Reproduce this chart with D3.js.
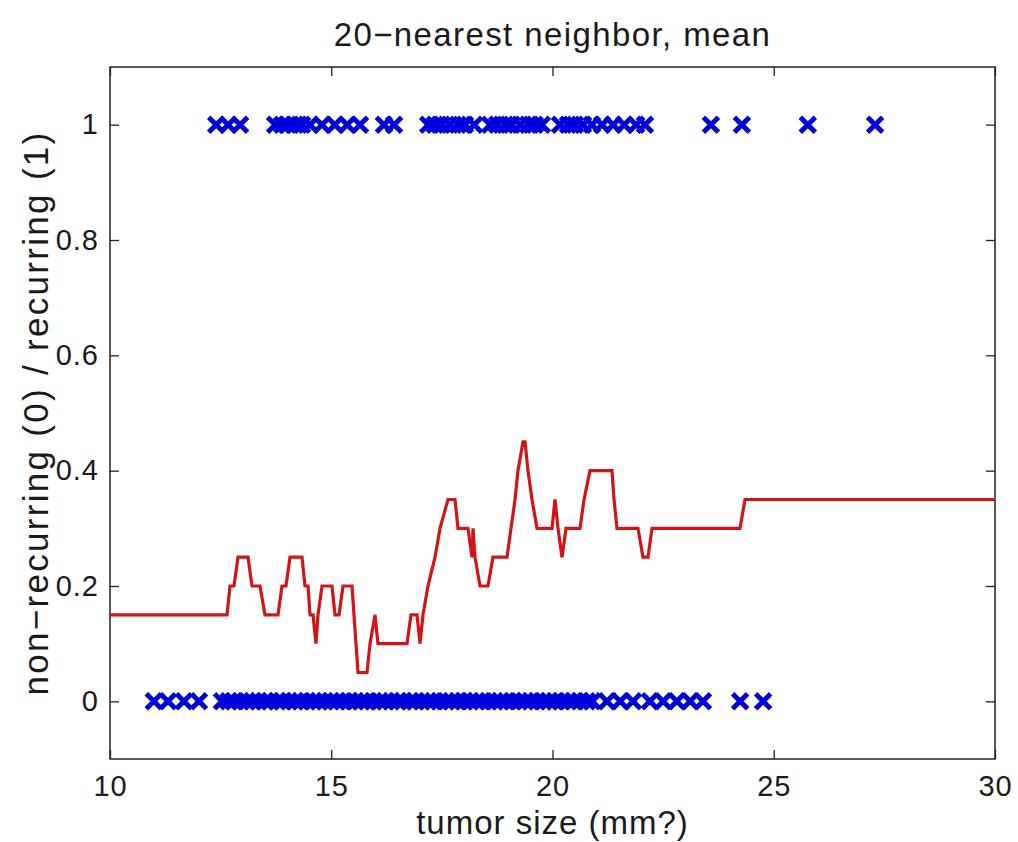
<!DOCTYPE html>
<html>
<head>
<meta charset="utf-8">
<script src="https://cdn.jsdelivr.net/npm/d3@7/dist/d3.min.js"></script>
<style>
html,body{margin:0;padding:0;background:#fff;}
svg{display:block;}
text{font-family:"Liberation Sans",Arial,Helvetica,sans-serif;fill:#1a1a1a;}
</style>
</head>
<body>
<svg id="chart" width="1018" height="842"></svg>
<script>
// ---- data ----
const titleText = "20\u2212nearest neighbor, mean";
const xLabelText = "tumor size (mm?)";
const yLabelText = "non\u2212recurring (0) / recurring (1)";
const xTicks = [10, 15, 20, 25, 30];
const yTicks = [0, 0.2, 0.4, 0.6, 0.8, 1];

// recurring cases (plotted at 1)
const recurringSizes = [12.4, 12.67, 12.94, 13.73, 13.89, 14.02, 14.18, 14.34, 14.52, 14.79,
  15.08, 15.36, 15.65, 16.19, 16.42, 17.19, 17.34, 17.50, 17.68, 17.86, 18.02, 18.23,
  18.59, 18.75, 18.93, 19.08, 19.27, 19.45, 19.60, 19.76, 20.17, 20.35, 20.51, 20.69,
  20.89, 21.12, 21.37, 21.62, 21.89, 22.09, 23.58, 24.28, 25.77, 27.29];

// non-recurring cases (plotted at 0)
const nonRecurringSizes = [10.99, 11.31, 11.67, 12.01,
  12.53, 12.68, 12.80, 12.95, 13.10, 13.22, 13.35, 13.50, 13.62, 13.78, 13.90, 14.05,
  14.18, 14.30, 14.45, 14.60, 14.72, 14.85, 15.00, 15.12, 15.25, 15.40, 15.55, 15.68,
  15.80, 15.95, 16.10, 16.22, 16.35, 16.50, 16.62, 16.78, 16.90, 17.05, 17.18, 17.30,
  17.45, 17.60, 17.72, 17.85, 18.00, 18.15, 18.28, 18.40, 18.55, 18.70, 18.82, 18.95,
  19.10, 19.25, 19.38, 19.50, 19.65, 19.80, 19.92, 20.05, 20.20, 20.35, 20.48, 20.62,
  20.78, 20.90, 21.23, 21.53, 21.82, 22.20, 22.50, 22.81, 23.11, 23.40, 24.24, 24.76];

// 20-NN mean curve
const curveX = [10.0, 12.644, 12.712, 12.802, 12.893, 13.119, 13.209, 13.390, 13.503, 13.797,
  13.887, 13.977, 14.068, 14.339, 14.407, 14.475, 14.520, 14.588, 14.655, 14.701, 14.791,
  15.017, 15.085, 15.175, 15.266, 15.469, 15.514, 15.559, 15.605, 15.808, 15.876, 15.989,
  16.056, 16.712, 16.802, 16.938, 17.006, 17.073, 17.186, 17.345, 17.458, 17.638, 17.797,
  17.864, 18.090, 18.181, 18.203, 18.249, 18.362, 18.542, 18.655, 18.972, 19.062, 19.153,
  19.220, 19.333, 19.379, 19.446, 19.537, 19.650, 19.989, 20.056, 20.124, 20.215, 20.305,
  20.621, 20.712, 20.847, 21.345, 21.390, 21.458, 21.932, 22.045, 22.158, 22.249, 24.237,
  24.350, 30.0];
const curveY = [0.15, 0.15, 0.2, 0.2, 0.25, 0.25, 0.2, 0.2, 0.15, 0.15,
  0.2, 0.2, 0.25, 0.25, 0.2, 0.2, 0.15, 0.15, 0.1, 0.15, 0.2,
  0.2, 0.15, 0.15, 0.2, 0.2, 0.15, 0.1, 0.05, 0.05, 0.1, 0.15,
  0.1, 0.1, 0.15, 0.15, 0.1, 0.15, 0.2, 0.25, 0.3, 0.35, 0.35,
  0.3, 0.3, 0.25, 0.3, 0.25, 0.2, 0.2, 0.25, 0.25, 0.3, 0.35,
  0.4, 0.45, 0.45, 0.4, 0.35, 0.3, 0.3, 0.35, 0.3, 0.25, 0.3,
  0.3, 0.35, 0.4, 0.4, 0.35, 0.3, 0.3, 0.25, 0.25, 0.3, 0.3,
  0.35, 0.35];

// ---- layout ----
const svg = d3.select("#chart");
const L = 110, R = 995, T = 67, B = 759;
const x = d3.scaleLinear().domain([10, 30]).range([L, R]);
const y = d3.scaleLinear().domain([-0.1, 1.1]).range([B, T]);
const tickLen = 9;

// axes with inward ticks
const gB = svg.append("g").attr("transform", `translate(0,${B})`)
  .call(d3.axisBottom(x).tickValues(xTicks).tickSizeInner(-tickLen).tickSizeOuter(0).tickPadding(16).tickFormat(d3.format("d")));
const gT = svg.append("g").attr("transform", `translate(0,${T})`)
  .call(d3.axisTop(x).tickValues(xTicks).tickSizeInner(-tickLen).tickSizeOuter(0).tickFormat(""));
const gL = svg.append("g").attr("transform", `translate(${L},0)`)
  .call(d3.axisLeft(y).tickValues(yTicks).tickSizeInner(-tickLen).tickSizeOuter(0).tickPadding(11).tickFormat(d => d === 0 || d === 1 ? d3.format("d")(d) : d3.format(".1f")(d)));
const gR = svg.append("g").attr("transform", `translate(${R},0)`)
  .call(d3.axisRight(y).tickValues(yTicks).tickSizeInner(-tickLen).tickSizeOuter(0).tickFormat(""));
[gB, gT, gL, gR].forEach(g => {
  g.select(".domain").remove();
  g.selectAll(".tick line").attr("stroke", "#222").attr("stroke-width", 1.3);
  g.selectAll("text").attr("font-size", 29).attr("fill", "#1a1a1a")
    .style("letter-spacing", "1px")
    .style("font-family", '"Liberation Sans", Arial, sans-serif');
});

// box
svg.append("rect").attr("x", L).attr("y", T).attr("width", R - L).attr("height", B - T)
  .attr("fill", "none").attr("stroke", "#222").attr("stroke-width", 1.5);

// markers
const ms = 7.5;
function cross(g, data, yv) {
  g.selectAll(null).data(data).enter().append("path")
    .attr("d", d => {
      const cx = x(d), cy = y(yv);
      return `M${cx - ms},${cy - ms}L${cx + ms},${cy + ms}M${cx - ms},${cy + ms}L${cx + ms},${cy - ms}`;
    })
    .attr("stroke", "#0000dd").attr("stroke-width", 5).attr("fill", "none");
}
const gm = svg.append("g");
cross(gm, nonRecurringSizes, 0);
cross(gm, recurringSizes, 1);

// curve
const line = d3.line().x(d => x(d[0])).y(d => y(d[1]));
svg.append("path").datum(d3.zip(curveX, curveY))
  .attr("d", line).attr("fill", "none").attr("stroke", "#d41414").attr("stroke-width", 3.2)
  .attr("stroke-linejoin", "miter");

// labels
svg.append("text").attr("x", (L + R) / 2).attr("y", 46).attr("text-anchor", "middle")
  .attr("font-size", 33).style("letter-spacing", "1.4px").text(titleText);
svg.append("text").attr("x", (L + R) / 2).attr("y", 834).attr("text-anchor", "middle")
  .attr("font-size", 33).style("letter-spacing", "1px").text(xLabelText);
svg.append("text").attr("transform", `translate(48,${(T + B) / 2}) rotate(-90)`).attr("text-anchor", "middle")
  .attr("font-size", 35).style("letter-spacing", "2.3px").text(yLabelText);
</script>
</body>
</html>
